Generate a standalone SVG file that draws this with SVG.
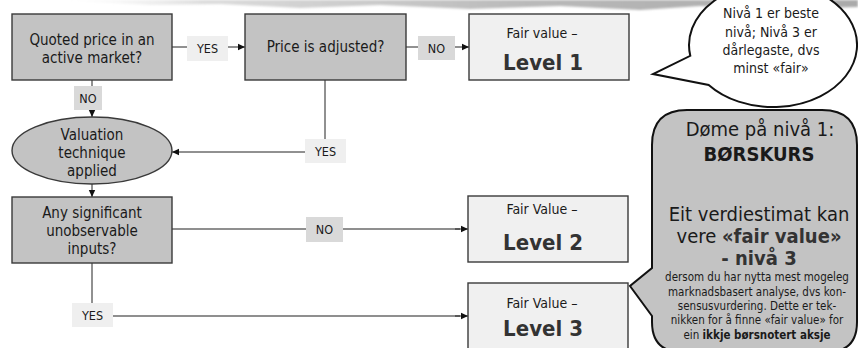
<svg xmlns="http://www.w3.org/2000/svg" width="858" height="348" viewBox="0 0 858 348">
  <defs>
    <linearGradient id="brush" x1="0" y1="0" x2="1" y2="0">
      <stop offset="0" stop-color="#ffffff" stop-opacity="0"/>
      <stop offset="0.2" stop-color="#dcdcdc"/>
      <stop offset="0.6" stop-color="#b9b9b9"/>
      <stop offset="1" stop-color="#aaaaaa"/>
    </linearGradient>
    <filter id="soft" x="-5%" y="-50%" width="110%" height="200%">
      <feGaussianBlur stdDeviation="0.8"/>
    </filter>
    <marker id="arrow" markerWidth="8" markerHeight="8" refX="7" refY="4" orient="auto" markerUnits="userSpaceOnUse">
      <path d="M0,0.8 L7,4 L0,7.2 Z" fill="#111"/>
    </marker>
    <style>
      text { font-family: 'DejaVu Sans Condensed', 'DejaVu Sans', sans-serif; fill: #1a1a1a; text-anchor: middle; }
      .box { stroke: #3a3a3a; stroke-width: 1.4; }
      .decision { fill: #c3c3c3; }
      .result { fill: #f0f0f0; }
      .t { font-size: 15px; }
      .fv { font-size: 14px; }
      .lvl { font-size: 22px; font-weight: bold; fill: #333; }
      .lab { font-size: 12.5px; }
      .yes { fill: #efefef; }
      .no { fill: #d9d9d9; }
      .wire { stroke: #222; stroke-width: 1; fill: none; }
      .wire2 { stroke: #6a6a6a; stroke-width: 1.6; fill: none; }
      .callout { stroke: #111; stroke-width: 2; }
      .note { font-size: 14px; }
      .big { font-size: 20px; }
      .small { font-size: 11.5px; }
      .b { font-weight: bold; }
      .g { fill: #333; }
    </style>
  </defs>

  <!-- brush stroke along the top edge -->
  <path d="M40,0 L858,0 L858,7 L780,9 L700,6 L640,10 L560,6 L470,9 L380,5 L300,8 L220,4 L150,5 L90,2 Z" fill="url(#brush)" filter="url(#soft)"/>

  <!-- connectors -->
  <g id="connectors">
    <line class="wire" x1="172" y1="47" x2="187" y2="47"/>
    <line class="wire" x1="228" y1="47" x2="245" y2="47" marker-end="url(#arrow)"/>
    <line class="wire" x1="406" y1="47" x2="418" y2="47"/>
    <line class="wire" x1="455" y1="47" x2="469" y2="47" marker-end="url(#arrow)"/>
    <line class="wire" x1="92" y1="80" x2="92" y2="86"/>
    <line class="wire" x1="92" y1="110" x2="92" y2="117" marker-end="url(#arrow)"/>
    <line class="wire" x1="325" y1="80" x2="325" y2="139"/>
    <line class="wire" x1="305" y1="152" x2="172" y2="152" marker-end="url(#arrow)"/>
    <line class="wire" x1="92" y1="184" x2="92" y2="197" marker-end="url(#arrow)"/>
    <line class="wire2" x1="172" y1="229" x2="306" y2="229"/>
    <line class="wire2" x1="343" y1="229" x2="460" y2="229"/>
    <line class="wire" x1="455" y1="229" x2="468" y2="229" marker-end="url(#arrow)"/>
    <line class="wire" x1="92" y1="263" x2="92" y2="303"/>
    <line class="wire2" x1="113" y1="316" x2="460" y2="316"/>
    <line class="wire" x1="455" y1="316" x2="468" y2="316" marker-end="url(#arrow)"/>
  </g>

  <!-- edge labels -->
  <g id="labels">
    <rect class="yes" x="187" y="36" width="41" height="25"/>
    <text class="lab" x="207.5" y="53">YES</text>
    <rect class="no" x="418" y="36" width="37" height="24"/>
    <text class="lab" x="436.5" y="53">NO</text>
    <rect class="no" x="74" y="86" width="28" height="24"/>
    <text class="lab" x="88" y="103">NO</text>
    <rect class="yes" x="305" y="139" width="41" height="24"/>
    <text class="lab" x="325.5" y="156">YES</text>
    <rect class="no" x="306" y="217" width="37" height="25"/>
    <text class="lab" x="324.5" y="234">NO</text>
    <rect class="yes" x="72" y="303" width="41" height="24"/>
    <text class="lab" x="92.5" y="320">YES</text>
  </g>

  <g id="quoted-price">
    <rect class="box decision" x="12" y="14" width="160" height="66"/>
    <text class="t" x="92" y="45">Quoted price in an</text>
    <text class="t" x="92" y="63">active market?</text>
  </g>

  <g id="price-adjusted">
    <rect class="box decision" x="245" y="14" width="161" height="66"/>
    <text class="t" x="325.5" y="52">Price is adjusted?</text>
  </g>

  <g id="level-1">
    <rect class="box result" x="469" y="14" width="160" height="66"/>
    <text class="fv" x="542" y="38">Fair value –</text>
    <text class="lvl" x="543" y="70">Level 1</text>
  </g>

  <g id="valuation-technique">
    <ellipse class="box decision" cx="92" cy="150.5" rx="80" ry="33.5"/>
    <text class="t" x="92" y="140">Valuation</text>
    <text class="t" x="92" y="158">technique</text>
    <text class="t" x="92" y="176">applied</text>
  </g>

  <g id="unobservable-inputs">
    <rect class="box decision" x="12" y="197" width="160" height="66"/>
    <text class="t" x="92" y="218">Any significant</text>
    <text class="t" x="92" y="236">unobservable</text>
    <text class="t" x="92" y="254">inputs?</text>
  </g>

  <g id="level-2">
    <rect class="box result" x="468" y="196" width="160" height="66"/>
    <text class="fv" x="542" y="214">Fair Value –</text>
    <text class="lvl" x="543" y="250">Level 2</text>
  </g>

  <g id="level-3">
    <rect class="box result" x="468" y="283" width="160" height="72"/>
    <text class="fv" x="542" y="308">Fair Value –</text>
    <text class="lvl" x="543" y="336">Level 3</text>
  </g>

  <!-- speech bubble: ranking of the levels -->
  <g id="note-levels">
    <path class="callout" fill="#ffffff" d="M690.3,55.8 A84,62 0 1 1 708.7,84.9 L653,74 Z"/>
    <text class="note" x="771" y="18">Nivå 1 er beste</text>
    <text class="note" x="771" y="37">nivå; Nivå 3 er</text>
    <text class="note" x="771" y="55">dårlegaste, dvs</text>
    <text class="note" x="771" y="73">minst «fair»</text>
  </g>

  <!-- callout: examples -->
  <g id="note-examples">
    <path class="callout" fill="#c3c3c3" stroke-width="1.4" d="M687,110 H822 Q857,110 857,145 V322 Q857,352 827,352 H682 Q652,352 652,322 V316 L630,286 L652,268 V145 Q652,110 687,110 Z"/>
    <text class="big" x="760" y="136">Døme på nivå 1:</text>
    <text class="big b" x="759" y="161">BØRSKURS</text>
    <text class="big" x="759" y="221">Eit verdiestimat kan</text>
    <text class="big" x="759" y="243">vere <tspan class="b g">«fair value»</tspan></text>
    <text class="big b g" x="759" y="265">- nivå 3</text>
    <text class="small" x="757" y="281">dersom du har nytta mest mogeleg</text>
    <text class="small" x="757" y="296">marknadsbasert analyse, dvs kon-</text>
    <text class="small" x="757" y="310">sensusvurdering. Dette er tek-</text>
    <text class="small" x="757" y="324">nikken for å finne «fair value» for</text>
    <text class="small" x="757" y="339">ein <tspan class="b">ikkje børsnotert aksje</tspan></text>
  </g>
</svg>
